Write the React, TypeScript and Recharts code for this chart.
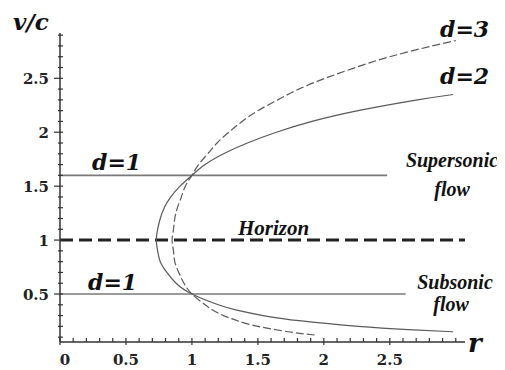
import { ComposedChart, Line, XAxis, YAxis } from "recharts";

// d = 2 solution: radius and velocity, from the far subsonic end round the nose to the supersonic end
const d2Radius = [2.98, 2.64, 2.26, 1.83, 1.54, 1.34, 1.2, 1.0, 0.88, 0.81, 0.76, 0.74, 0.73, 0.74, 0.76, 0.79, 0.84, 0.91, 1.0, 1.1, 1.24, 1.42, 1.64, 1.91, 2.26, 2.71, 2.98];
const d2Velocity = [0.15, 0.17, 0.2, 0.25, 0.3, 0.35, 0.4, 0.5, 0.6, 0.7, 0.8, 0.9, 1.0, 1.1, 1.2, 1.3, 1.4, 1.5, 1.6, 1.7, 1.8, 1.9, 2.0, 2.1, 2.2, 2.3, 2.35];

// d = 3 solution
const d3Radius = [1.93, 1.85, 1.73, 1.5, 1.35, 1.24, 1.16, 1.1, 1.0, 0.94, 0.9, 0.87, 0.86, 0.85, 0.86, 0.87, 0.89, 0.92, 0.95, 1.0, 1.05, 1.12, 1.19, 1.28, 1.38, 1.5, 1.65, 1.81, 2.01, 2.24, 2.5, 2.82, 3.0];
const d3Velocity = [0.12, 0.13, 0.15, 0.2, 0.25, 0.3, 0.35, 0.4, 0.5, 0.6, 0.7, 0.8, 0.9, 1.0, 1.1, 1.2, 1.3, 1.4, 1.5, 1.6, 1.7, 1.8, 1.9, 2.0, 2.1, 2.2, 2.3, 2.4, 2.5, 2.6, 2.7, 2.8, 2.85];

// d = 1 constant-velocity flows and the sonic horizon
const supersonicV = 1.6;
const supersonicEnd = 2.48;
const subsonicV = 0.5;
const subsonicEnd = 2.62;
const horizonV = 1;
const horizonEnd = 3.07;

const xTicks = [0, 0.1, 0.2, 0.3, 0.4, 0.5, 0.6, 0.7, 0.8, 0.9, 1, 1.1, 1.2, 1.3, 1.4, 1.5, 1.6, 1.7, 1.8, 1.9, 2, 2.1, 2.2, 2.3, 2.4, 2.5, 2.6, 2.7, 2.8, 2.9, 3];
const xMajor = [0, 0.5, 1, 1.5, 2, 2.5];
const xLabels = ["0", "0.5", "1", "1.5", "2", "2.5"];

const yTicks = [0.1, 0.2, 0.3, 0.4, 0.5, 0.6, 0.7, 0.8, 0.9, 1, 1.1, 1.2, 1.3, 1.4, 1.5, 1.6, 1.7, 1.8, 1.9, 2, 2.1, 2.2, 2.3, 2.4, 2.5, 2.6, 2.7, 2.8, 2.9];
const yMajor = [0.5, 1, 1.5, 2, 2.5];
const yLabels = ["0.5", "1", "1.5", "2", "2.5"];

const toPoints = (rs: number[], vs: number[]) => rs.map((r, i) => ({ r, v: vs[i] }));

const d2Data = toPoints(d2Radius, d2Velocity);
const d3Data = toPoints(d3Radius, d3Velocity);
const supersonicData = toPoints([0, supersonicEnd], [supersonicV, supersonicV]);
const subsonicData = toPoints([0, subsonicEnd], [subsonicV, subsonicV]);
const horizonData = toPoints([0, horizonEnd], [horizonV, horizonV]);

const serif = "'DejaVu Serif', serif";
const wordSerif = "'Liberation Serif', serif";
const axisColor = "#333";

function XTick({ x, y, payload }: any) {
  const idx = xMajor.indexOf(payload.value);
  return (
    <g>
      <line x1={x} x2={x} y1={y - 4} y2={idx >= 0 ? y + 3 : y} stroke={axisColor} strokeWidth={1.2} />
      {idx >= 0 && (
        <text x={x + (payload.value === 0 ? 5 : 0)} y={y + 23} textAnchor="middle" fontFamily={serif} fontWeight="bold" fontSize={15} fill="#222">
          {xLabels[idx]}
        </text>
      )}
    </g>
  );
}

function YTick({ x, y, payload }: any) {
  const idx = yMajor.indexOf(payload.value);
  return (
    <g>
      <line x1={idx >= 0 ? x - 6 : x - 2} x2={x + 3} y1={y} y2={y} stroke={axisColor} strokeWidth={1.2} />
      {idx >= 0 && (
        <text x={x - 11} y={y + 5.5} textAnchor="end" fontFamily={serif} fontWeight="bold" fontSize={15} fill="#222">
          {yLabels[idx]}
        </text>
      )}
    </g>
  );
}

const italic = { fontFamily: serif, fontWeight: "bold", fontStyle: "italic", fill: "#111" } as const;
const wordItalic = { fontFamily: wordSerif, fontWeight: "bold", fontStyle: "italic", fill: "#111" } as const;

export default function App() {
  return (
    <div style={{ position: "relative", width: 497, height: 362 }}>
      <ComposedChart width={497} height={362} margin={{ top: 25, right: 40, bottom: 0, left: 0 }}>
        <XAxis
          type="number"
          dataKey="r"
          domain={[0, 3.07]}
          allowDataOverflow
          ticks={xTicks}
          interval={0}
          height={28}
          tickSize={0}
          tickMargin={0}
          tickLine={false}
          tick={<XTick />}
          axisLine={{ stroke: axisColor, strokeWidth: 1.5 }}
        />
        <YAxis
          type="number"
          dataKey="v"
          domain={[0.055, 2.92]}
          allowDataOverflow
          ticks={yTicks}
          interval={0}
          width={52}
          tickSize={0}
          tickMargin={0}
          tickLine={false}
          tick={<YTick />}
          axisLine={{ stroke: axisColor, strokeWidth: 1.5 }}
        />
        <Line data={supersonicData} dataKey="v" type="linear" stroke="#7a7a7a" strokeWidth={1.6} dot={false} isAnimationActive={false} />
        <Line data={subsonicData} dataKey="v" type="linear" stroke="#7a7a7a" strokeWidth={1.6} dot={false} isAnimationActive={false} />
        <Line data={horizonData} dataKey="v" type="linear" stroke="#222" strokeWidth={3} strokeDasharray="13 6" dot={false} isAnimationActive={false} />
        <Line data={d2Data} dataKey="v" type="natural" stroke="#5a5a5a" strokeWidth={1.2} dot={false} isAnimationActive={false} />
        <Line data={d3Data} dataKey="v" type="natural" stroke="#5a5a5a" strokeWidth={1.2} strokeDasharray="8 3" dot={false} isAnimationActive={false} />
      </ComposedChart>
      <svg width={497} height={362} style={{ position: "absolute", left: 0, top: 0, pointerEvents: "none" }}>
        <text x={5} y={22} fontSize={23} {...italic}>v/c</text>
        <text x={460} y={344} fontSize={26} {...italic}>r</text>
        <text x={432} y={29} fontSize={22} {...italic}>d=3</text>
        <text x={432} y={76} fontSize={22} {...italic}>d=2</text>
        <text x={84} y={162} fontSize={22} {...italic}>d=1</text>
        <text x={80} y={282} fontSize={22} {...italic}>d=1</text>
        <text x={230} y={227} fontSize={21} {...wordItalic}>Horizon</text>
        <text x={444} y={159} fontSize={20} textAnchor="middle" {...wordItalic}>Supersonic</text>
        <text x={444} y={188} fontSize={20} textAnchor="middle" {...wordItalic}>flow</text>
        <text x={447} y={281} fontSize={20} textAnchor="middle" {...wordItalic}>Subsonic</text>
        <text x={443} y={303} fontSize={20} textAnchor="middle" {...wordItalic}>flow</text>
      </svg>
    </div>
  );
}
